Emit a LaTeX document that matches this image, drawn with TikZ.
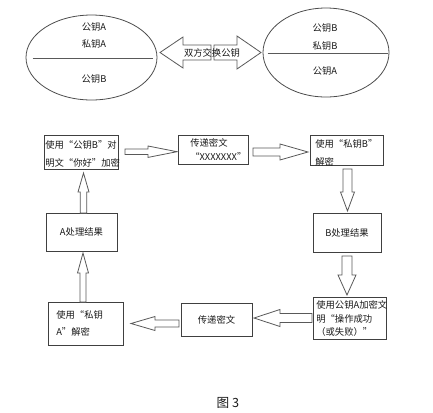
\documentclass[tikz,border=0pt]{standalone}
\usepackage{fontspec}
\setmainfont{Noto Sans CJK SC}
\usetikzlibrary{calc,shapes.geometric}
\tikzset{
  sz/.style 2 args={minimum width=#1*0.75pt, minimum height=#2*0.75pt},
  box/.style={draw=black!75, line width=0.6pt, inner sep=0pt, font=\fontsize{7}{9}\selectfont, text=black!90},
  ell/.style={ellipse, draw=black!70, line width=0.6pt, inner sep=0pt},
  ln/.style={draw=black!65, line width=0.6pt},
  txt/.style={inner sep=0pt, font=\fontsize{7}{9}\selectfont, text=black!90},
  fat/.style={draw=black!65, fill=white, line width=0.6pt, line join=miter},
}
% #1 start, #2 tip, #3 shaft half width, #4 head half width, #5 head length (px)
\newcommand{\fatarrow}[5]{%
  \coordinate (faH) at ($(#2)!#5*0.75pt!(#1)$);
  \draw[fat] ($(#1)!#3*0.75pt!90:(#2)$) -- ($(faH)!#3*0.75pt!-90:(#1)$)
    -- ($(faH)!#4*0.75pt!-90:(#1)$) -- (#2) -- ($(faH)!#4*0.75pt!90:(#1)$)
    -- ($(faH)!#3*0.75pt!90:(#1)$) -- ($(#1)!#3*0.75pt!-90:(#2)$) -- cycle;
}
\begin{document}
\begin{tikzpicture}[x=0.75pt,y=-0.75pt]
\useasboundingbox (0,0) rectangle (433,412);

% ellipses
\node[ell, sz={131}{85}] (eA) at (91.5,57.5) {};
\node[ell, sz={126}{89}] (eB) at (326,52.5) {};
\draw[ln] ($(eA.west)+(7,0.5)$) -- ($(eA.east)+(-4,0.5)$);
\draw[ln] ($(eB.west)+(5,0.5)$) -- ($(eB.east)+(-1,0.5)$);
\node[txt] (a1) at (94,27) {公钥A};
\node[txt] (a2) at (94,44) {私钥A};
\node[txt] (a3) at (94,79) {公钥B};
\node[txt] (b1) at (325,28) {公钥B};
\node[txt] (b2) at (325,46) {私钥B};
\node[txt] (b3) at (325,71) {公钥A};

% exchange arrows
\coordinate (xL0) at (211,52.5); \coordinate (xL1) at (160,52.5);
\coordinate (xR0) at (214,52.5); \coordinate (xR1) at (261,52.5);
\fatarrow{xL0}{xL1}{7.5}{15.5}{23}
\fatarrow{xR0}{xR1}{7.5}{16.5}{24}
\node[txt] (sw) at (212,53) {双方交换公钥};

% boxes
\node[box, sz={74}{34}] (p1) at (81,152) {};
\node[txt, anchor=west, align=left, font=\fontsize{7}{13.5}\selectfont] (t1) at (45,154) {使用“公钥B”对\\明文“你好”加密};
\node[box, sz={70}{29}] (p2) at (213,149.5) {};
\node[txt, anchor=west, align=left, font=\fontsize{7}{10.5}\selectfont] (t2) at (190,150) {传递密文\\“XXXXXXX”};
\node[box, sz={73}{30}] (p3) at (346.5,150) {};
\node[txt, anchor=west, align=left, font=\fontsize{7}{13.5}\selectfont] (t3) at (315,153) {使用“私钥B”\\解密};
\node[box, sz={68}{39}] (p4) at (347,232.5) {B处理结果};
\node[box, sz={73}{42}] (p5) at (349.5,318) {};
\node[txt, anchor=west, align=left, font=\fontsize{7}{10}\selectfont] (t5) at (316,318.5) {使用公钥A加密文\\明“操作成功\\（或失败）”};
\node[box, sz={71}{33}] (p6) at (216.5,319.5) {传递密文};
\node[box, sz={75}{43}] (p7) at (85.5,323.5) {};
\node[txt, anchor=west, align=left, font=\fontsize{7}{12.75}\selectfont] (t7) at (56,323.5) {使用“私钥\\A”解密};
\node[box, sz={71}{38}] (p8) at (81.5,232) {A处理结果};

% flow arrows
\coordinate (c1s) at (125,151.7); \coordinate (c1e) at (177,151.7);
\coordinate (c2s) at (253,152);   \coordinate (c2e) at (308,152);
\coordinate (c3s) at (347.5,169); \coordinate (c3e) at (347.5,211);
\coordinate (c4s) at (347,256);   \coordinate (c4e) at (347,295);
\coordinate (c5s) at (312,318);   \coordinate (c5e) at (254,318);
\coordinate (c6s) at (179,323.5); \coordinate (c6e) at (131,323.5);
\coordinate (c7s) at (83,302);    \coordinate (c7e) at (83,253);
\coordinate (c8s) at (83.5,213);  \coordinate (c8e) at (83.5,173);
\fatarrow{c1s}{c1e}{2.7}{5.7}{29}
\fatarrow{c2s}{c2e}{4}{8}{28}
\fatarrow{c3s}{c3e}{4.5}{7}{19}
\fatarrow{c4s}{c4e}{5}{9}{20}
\fatarrow{c5s}{c5e}{4.5}{8.5}{26}
\fatarrow{c6s}{c6e}{3.5}{7}{24}
\fatarrow{c7s}{c7e}{3}{5.5}{20}
\fatarrow{c8s}{c8e}{3.3}{5.5}{19}

\node[txt, font=\fontsize{9.5}{11}\selectfont] (cap) at (228,403) {图 3};
\end{tikzpicture}
\end{document}
